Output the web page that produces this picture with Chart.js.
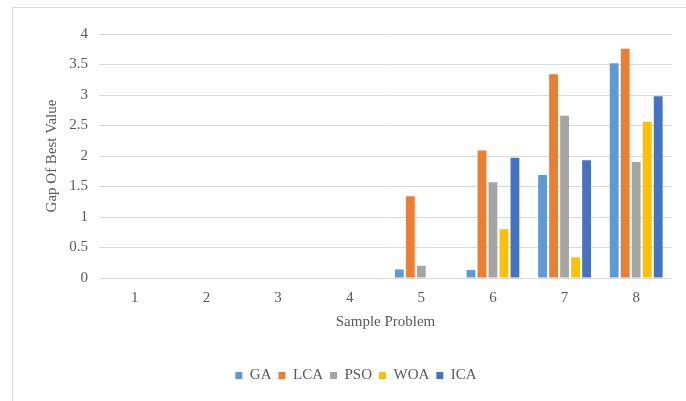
<!DOCTYPE html>
<html>
<head>
<meta charset="utf-8">
<script src="https://cdn.jsdelivr.net/npm/chart.js@4/dist/chart.umd.min.js"></script>
<style>
  html, body { margin: 0; padding: 0; background: #ffffff; }
  #frame { position: absolute; left: 12px; top: 7px; width: 700px; height: 420px; border: 1px solid #d9d9d9; box-sizing: border-box; }
  #wrap { position: absolute; left: 0; top: 0; width: 686px; height: 401px; }
</style>
</head>
<body>
<div id="frame"></div>
<div id="wrap"><canvas id="c" width="686" height="401"></canvas></div>
<script>
const categories = ['1', '2', '3', '4', '5', '6', '7', '8'];
const seriesNames = ['GA', 'LCA', 'PSO', 'WOA', 'ICA'];
const GA  = [0, 0, 0, 0, 0.14, 0.13, 1.69, 3.52];
const LCA = [0, 0, 0, 0, 1.34, 2.09, 3.34, 3.76];
const PSO = [0, 0, 0, 0, 0.20, 1.57, 2.66, 1.90];
const WOA = [0, 0, 0, 0, 0, 0.80, 0.34, 2.56];
const ICA = [0, 0, 0, 0, 0, 1.97, 1.93, 2.98];
const yTicks = [0, 0.5, 1, 1.5, 2, 2.5, 3, 3.5, 4];

const colors = ['#5B9BD5', '#ED7D31', '#A5A5A5', '#FFC000', '#4472C4'];
const values = [GA, LCA, PSO, WOA, ICA];
const font = "'Liberation Serif', 'Times New Roman', serif";
const textColor = '#595959';

new Chart(document.getElementById('c'), {
  type: 'bar',
  data: {
    labels: categories,
    datasets: seriesNames.map((n, i) => ({
      label: n,
      data: values[i],
      backgroundColor: colors[i],
      borderWidth: 0,
      categoryPercentage: 0.768,
      barPercentage: 0.8
    }))
  },
  options: {
    responsive: false,
    animation: false,
    layout: { padding: { left: 40, right: 14, top: 34, bottom: 8 } },
    plugins: {
      tooltip: { enabled: false },
      legend: {
        position: 'bottom',
        labels: {
          boxWidth: 7, boxHeight: 7, padding: 7,
          color: textColor,
          font: { family: font, size: 15 }
        }
      }
    },
    scales: {
      x: {
        grid: { display: false, drawTicks: false },
        border: { display: false },
        ticks: { color: textColor, font: { family: font, size: 15 }, padding: 11 },
        title: {
          display: true, text: 'Sample Problem', color: textColor,
          font: { family: font, size: 15 }, padding: { top: -5, bottom: 30 }
        }
      },
      y: {
        min: 0, max: 4,
        afterBuildTicks: (axis) => { axis.ticks = yTicks.map(v => ({ value: v })); },
        afterFit: (axis) => { axis.width = 59; },
        grid: { color: '#d9d9d9', lineWidth: 1, drawTicks: false },
        border: { display: false },
        ticks: {
          color: textColor, font: { family: font, size: 15 }, padding: 11,
          callback: (v) => String(v)
        },
        title: {
          display: true, text: 'Gap Of Best Value', color: textColor,
          font: { family: font, size: 15 }, padding: { top: 3, bottom: 0 }
        }
      }
    }
  }
});
</script>
</body>
</html>
